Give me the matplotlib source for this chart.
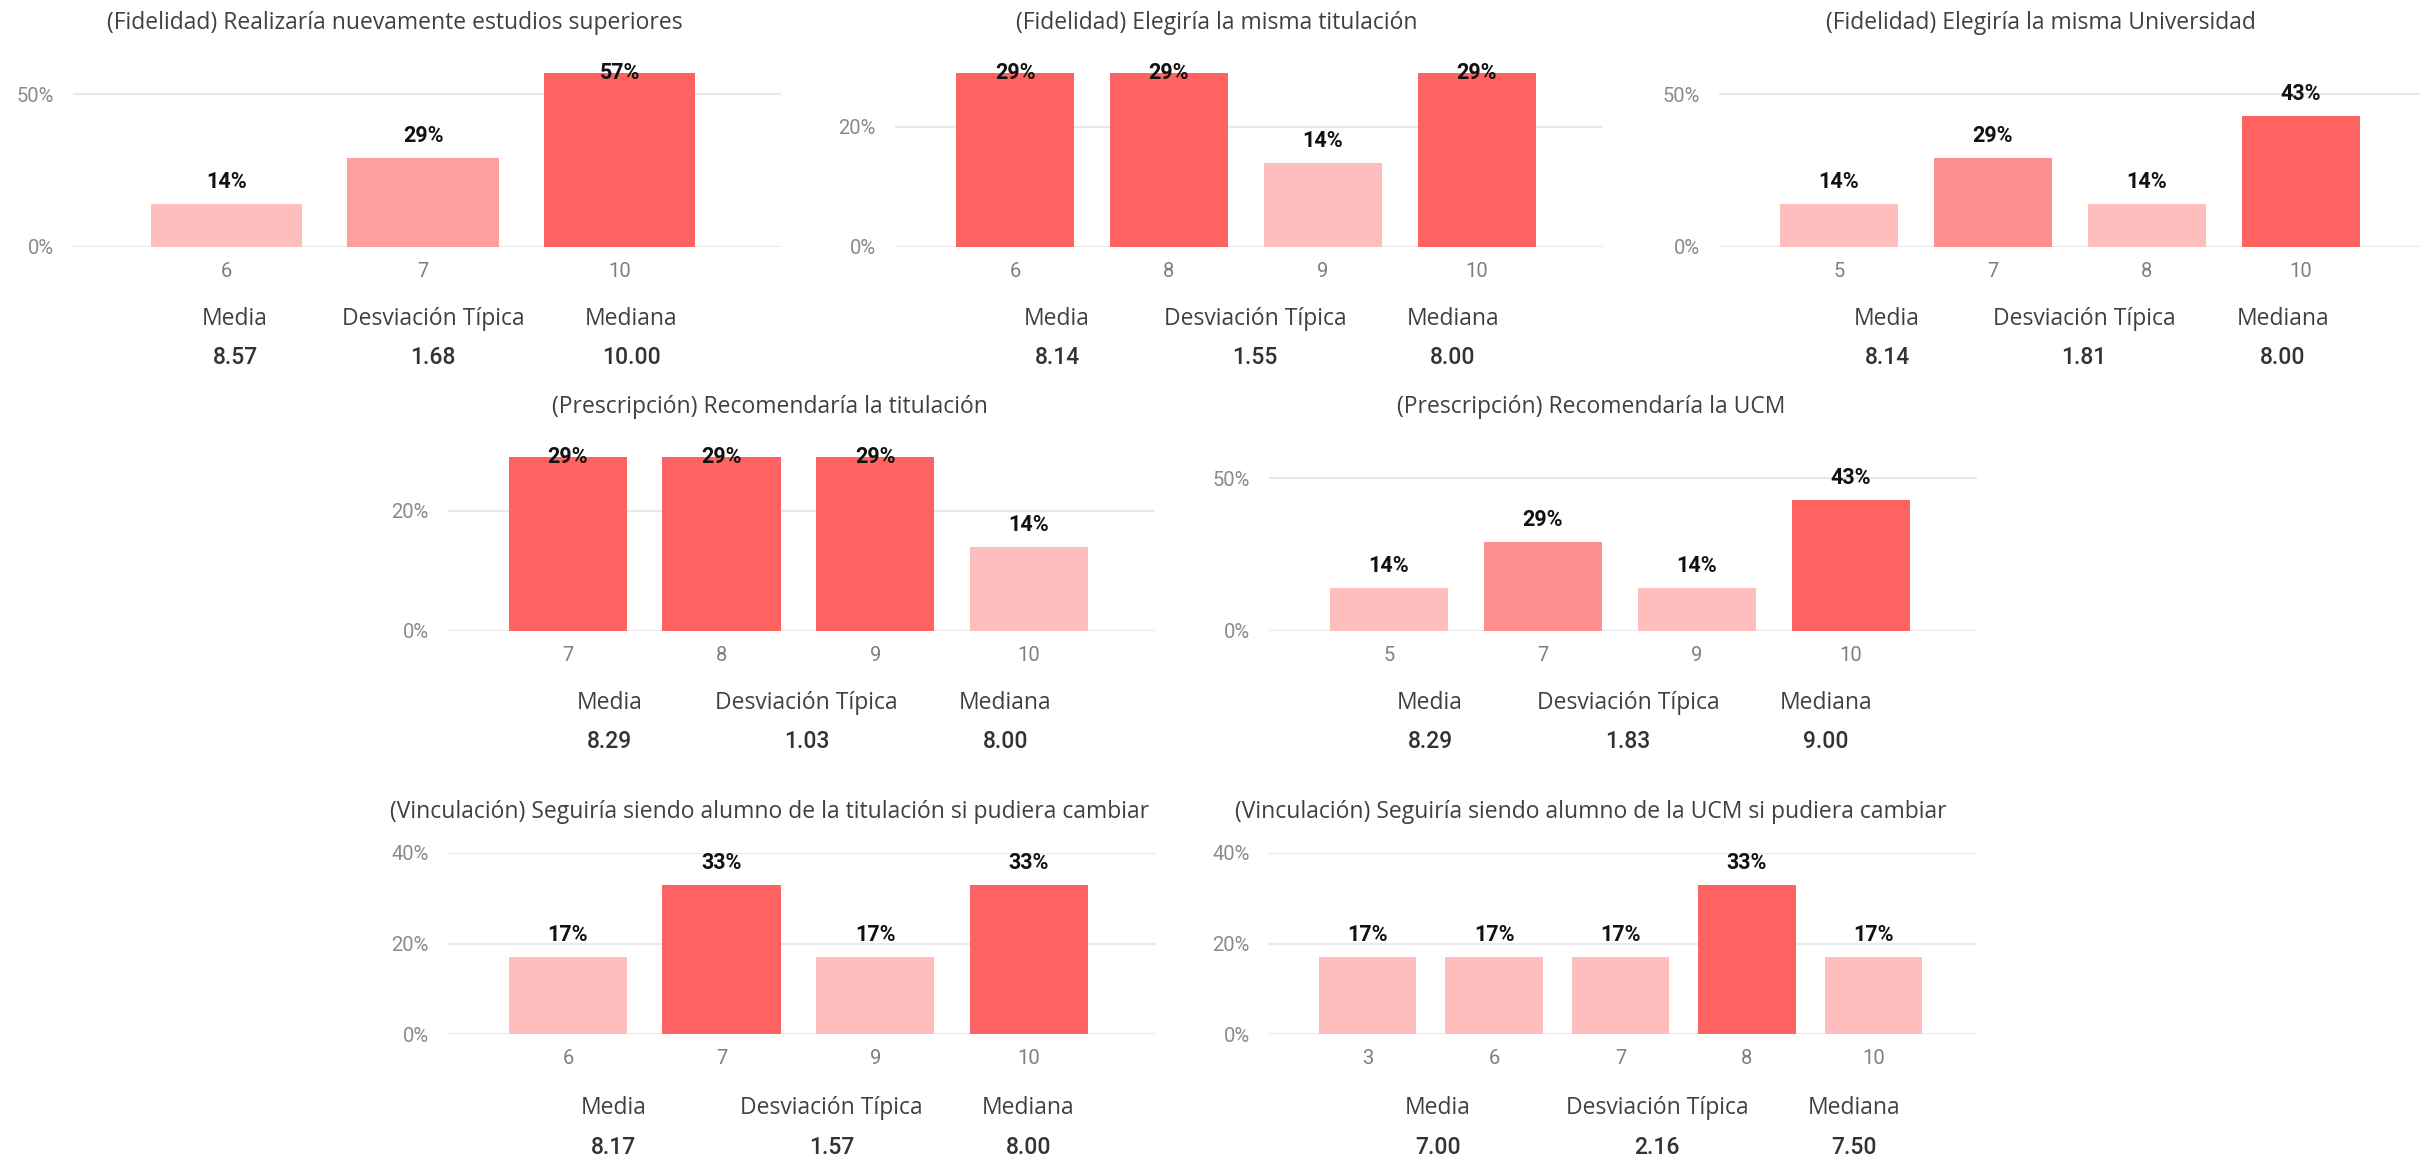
import matplotlib
matplotlib.use("Agg")
import matplotlib.pyplot as plt
import matplotlib.transforms as mtransforms
import numpy as np

# ---------------- data ----------------
titles = [
    "(Fidelidad) Realizaría nuevamente estudios superiores",
    "(Fidelidad) Elegiría la misma titulación",
    "(Fidelidad) Elegiría la misma Universidad",
    "(Prescripción) Recomendaría la titulación",
    "(Prescripción) Recomendaría la UCM",
    "(Vinculación) Seguiría siendo alumno de la titulación si pudiera cambiar",
    "(Vinculación) Seguiría siendo alumno de la UCM si pudiera cambiar",
]

scores_1 = ["6", "7", "10"]
share_1 = [0.14, 0.29, 0.57]
scores_2 = ["6", "8", "9", "10"]
share_2 = [0.29, 0.29, 0.14, 0.29]
scores_3 = ["5", "7", "8", "10"]
share_3 = [0.14, 0.29, 0.14, 0.43]
scores_4 = ["7", "8", "9", "10"]
share_4 = [0.29, 0.29, 0.29, 0.14]
scores_5 = ["5", "7", "9", "10"]
share_5 = [0.14, 0.29, 0.14, 0.43]
scores_6 = ["6", "7", "9", "10"]
share_6 = [0.17, 0.33, 0.17, 0.33]
scores_7 = ["3", "6", "7", "8", "10"]
share_7 = [0.17, 0.17, 0.17, 0.33, 0.17]

stat_names = ["Media", "Desviación Típica", "Mediana"]
media = ["8.57", "8.14", "8.14", "8.29", "8.29", "8.17", "7.00"]
desviacion = ["1.68", "1.55", "1.81", "1.03", "1.83", "1.57", "2.16"]
mediana = ["10.00", "8.00", "8.00", "8.00", "9.00", "8.00", "7.50"]

y_ticks = [[0, 0.5], [0, 0.2], [0, 0.5], [0, 0.2], [0, 0.5], [0, 0.2, 0.4], [0, 0.2, 0.4]]
y_top = [0.57, 0.29, 0.57, 0.29, 0.57, 0.40, 0.40]

all_scores = [scores_1, scores_2, scores_3, scores_4, scores_5, scores_6, scores_7]
all_shares = [share_1, share_2, share_3, share_4, share_5, share_6, share_7]

# ---------------- layout (pixels) ----------------
W, H = 2420, 1158
DPI = 100
# left, right, top, bottom of each plot area
boxes = [
    (73, 781, 73, 247),
    (895, 1603, 73, 247),
    (1719, 2427, 73, 247),
    (448, 1155, 457, 631),
    (1269, 1977, 457, 631),
    (448, 1155, 853, 1034),
    (1269, 1977, 853, 1034),
]
stat_dx = [
    (-192, 6, 204), (-192, 6, 204), (-186, 11, 210),
    (-192, 5, 204), (-193, 5, 203),
    (-188, 30, 227), (-185, 34, 231),
]
stat_rows = [(319, 358), (319, 358), (319, 358), (703, 742), (703, 742), (1108, 1147), (1108, 1147)]
title_y = [23, 23, 23, 407, 407, 812, 812]

LIGHT = np.array([0xFF, 0xBE, 0xBE]) / 255
DARK = np.array([0xFF, 0x63, 0x61]) / 255

UI_FONT = ["Open Sans", "DejaVu Sans"]
NUM_FONT = ["Roboto", "DejaVu Sans"]

fig = plt.figure(figsize=(W / DPI, H / DPI), dpi=DPI)
fig.patch.set_facecolor("white")


def fx(px):
    return px / W


def fy(py):
    return 1 - py / H


for i in range(7):
    l, r, t, b = boxes[i]
    ax = fig.add_axes([fx(l), fy(b), fx(r - l), (b - t) / H])
    cats = all_scores[i]
    vals = np.array(all_shares[i])
    n = len(cats)
    x = np.arange(n)
    lo, hi = vals.min(), vals.max()
    frac = (vals - lo) / (hi - lo) if hi > lo else np.ones(n)
    colors = [tuple(LIGHT + f * (DARK - LIGHT)) for f in frac]
    ax.bar(x, vals, width=0.77, color=colors, zorder=2)
    ax.set_xlim(-0.78, n - 0.18)
    ax.set_ylim(0, y_top[i])
    ax.set_yticks(y_ticks[i])
    ax.set_yticklabels([f"{v:.0%}" for v in y_ticks[i]])
    ax.set_xticks(x)
    ax.set_xticklabels(cats)
    for s in ax.spines.values():
        s.set_visible(False)
    ax.grid(axis="y", color="#E9E9E9", linewidth=1.6, zorder=0)
    ax.set_axisbelow(True)
    ax.tick_params(axis="both", length=0)
    ax.tick_params(axis="x", pad=11, labelsize=14.5, labelcolor="#7F7F7F")
    ax.tick_params(axis="y", pad=14, labelsize=14.5, labelcolor="#8A8A8A")
    for lab in ax.get_xticklabels() + ax.get_yticklabels():
        lab.set_family(NUM_FONT)

    # value labels: 22 px above the bar, kept inside the plot area
    h_px = b - t
    trans = mtransforms.blended_transform_factory(ax.transData, ax.transAxes)
    for xi, v in zip(x, vals):
        yl = min(v / y_top[i] + 22 / h_px, 1.0)
        ax.text(xi, yl, f"{v:.0%}", transform=trans, ha="center", va="center",
                fontsize=15.5, fontweight="bold", color="#111111", family=NUM_FONT,
                clip_on=False, zorder=3)

    cx = (l + r) / 2
    fig.text(fx(cx - 32), fy(title_y[i]), titles[i], ha="center", va="center",
             fontsize=16.5, color="#404040", family=UI_FONT)

    ly, vy = stat_rows[i]
    values = [media[i], desviacion[i], mediana[i]]
    for dx, name, val in zip(stat_dx[i], stat_names, values):
        fig.text(fx(cx + dx), fy(ly), name, ha="center", va="center",
                 fontsize=16.5, color="#404040", family=UI_FONT)
        fig.text(fx(cx + dx), fy(vy), val, ha="center", va="center",
                 fontsize=16.5, fontweight="medium", color="#333333", family=NUM_FONT)

fig.savefig("out.png", dpi=DPI, facecolor="white")
